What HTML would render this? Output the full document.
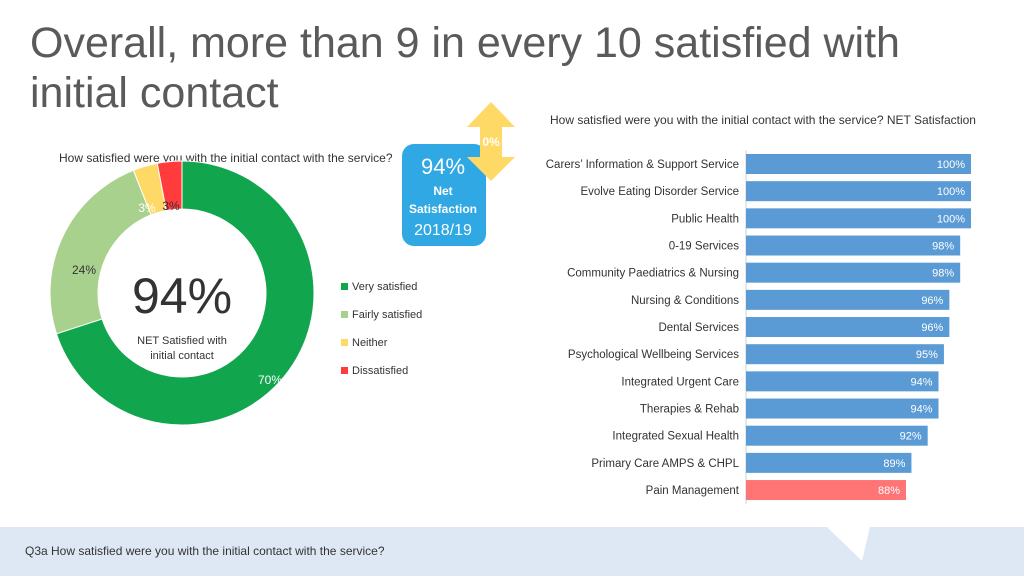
<!DOCTYPE html>
<html><head><meta charset="utf-8"><style>
body{margin:0;width:1024px;height:576px;overflow:hidden;background:#fff;font-family:"Liberation Sans",sans-serif;position:relative}
.abs{position:absolute}
</style></head><body>
<div class="abs" style="left:30px;top:18px;font-size:43px;line-height:50px;color:#5a5a5a;width:940px">Overall, more than 9 in every 10 satisfied with initial contact</div>
<div class="abs" style="left:59px;top:151px;font-size:12px;color:#333">How satisfied were you with the initial contact with the service?</div>
<div class="abs" style="left:550px;top:113px;font-size:12px;color:#333">How satisfied were you with the initial contact with the service? NET Satisfaction</div>
<svg class="abs" style="left:0;top:0" width="1024" height="576">
<polygon points="0,527 827,527 862,561 870,527 1024,527 1024,576 0,576" fill="#dde8f4"/>
<rect x="402" y="144" width="84" height="102" rx="12" fill="#2fa8e3"/>
<polygon points="491,102 515,127 502,127 502,157 515,157 491,181 467,157 480,157 480,127 467,127" fill="#ffd966"/>
<text x="491" y="146" text-anchor="middle" font-size="12" font-weight="bold" fill="#fff">0%</text>
<text x="443" y="174" text-anchor="middle" font-size="22" fill="#fff">94%</text>
<text x="443" y="195" text-anchor="middle" font-size="12" font-weight="bold" fill="#fff">Net</text>
<text x="443" y="213" text-anchor="middle" font-size="12" font-weight="bold" fill="#fff">Satisfaction</text>
<text x="443" y="235" text-anchor="middle" font-size="16" fill="#fff">2018/19</text>
<g id="donut"></g><g id="bars"></g>
<text x="182" y="313" text-anchor="middle" font-size="50" fill="#333">94%</text>
<text x="182" y="344" text-anchor="middle" font-size="11" fill="#333">NET Satisfied with</text>
<text x="182" y="359" text-anchor="middle" font-size="11" fill="#333">initial contact</text>
<g font-size="11" fill="#333">
<rect x="341" y="283" width="7" height="7" fill="#11a54e"/><text x="352" y="290">Very satisfied</text>
<rect x="341" y="311" width="7" height="7" fill="#a9d18e"/><text x="352" y="318">Fairly satisfied</text>
<rect x="341" y="339" width="7" height="7" fill="#ffd966"/><text x="352" y="346">Neither</text>
<rect x="341" y="367" width="7" height="7" fill="#ff3b3b"/><text x="352" y="374">Dissatisfied</text>
</g>
</svg>
<div class="abs" style="left:25px;top:544px;font-size:12px;color:#333">Q3a How satisfied were you with the initial contact with the service?</div>
<script>
const sliceLabels=["Very satisfied","Fairly satisfied","Neither","Dissatisfied"];
const sliceValues=[70,24,3,3];
const sliceColors=["#11a54e","#a9d18e","#ffd966","#ff3b3b"];
const services=["Carers’ Information & Support Service","Evolve Eating Disorder Service","Public Health","0-19 Services","Community Paediatrics & Nursing","Nursing & Conditions","Dental Services","Psychological Wellbeing Services","Integrated Urgent Care","Therapies & Rehab","Integrated Sexual Health","Primary Care AMPS & CHPL","Pain Management"];
const netValues=[100,100,100,98,98,96,96,95,94,94,92,89,88];
const NS="http://www.w3.org/2000/svg";
function mk(t,a,p){const e=document.createElementNS(NS,t);for(const k in a)e.setAttribute(k,a[k]);p.appendChild(e);return e;}
const cx=182,cy=293,R=132,r=84,dg=document.getElementById('donut');
const total=sliceValues.reduce((a,b)=>a+b,0);let acc=0;
const lblPos=[[270,384],[84,274],[147,212],[171,210]];
sliceValues.forEach((v,i)=>{
 const a0=acc/total*2*Math.PI,a1=(acc+v)/total*2*Math.PI;acc+=v;
 const p=(a,rad)=>[cx+rad*Math.sin(a),cy-rad*Math.cos(a)];
 const [x0,y0]=p(a0,R),[x1,y1]=p(a1,R),[x2,y2]=p(a1,r),[x3,y3]=p(a0,r);
 const lg=(a1-a0)>Math.PI?1:0;
 const path=mk('path',{d:`M${x0},${y0}A${R},${R} 0 ${lg} 1 ${x1},${y1}L${x2},${y2}A${r},${r} 0 ${lg} 0 ${x3},${y3}Z`,fill:sliceColors[i],stroke:'#fff','stroke-width':1},dg);
 
 
 const t=mk('text',{x:lblPos[i][0],y:lblPos[i][1],'text-anchor':'middle','font-size':12,fill:i==0?'#fff':(i==2?'#fff':'#333')},dg);
 t.textContent=v+'%';
 
 
});
const bg=document.getElementById('bars');
const x0=746,vMin=58.46,k=5.417,y0=164,step=27.17,bh=20;
const xs=v=>x0+(v-vMin)*k;
mk('line',{x1:x0,y1:y0-step/2,x2:x0,y2:y0+step*(services.length-0.5),stroke:'#d0d0d0'},bg);
services.forEach((s,i)=>{
 const y=y0+i*step;
 const rc=mk('rect',{x:x0,y:y-bh/2,width:xs(netValues[i])-x0,height:bh,fill:i==services.length-1?'#ff7474':'#5b9bd5'},bg);
 
 
 const l=mk('text',{x:739,y:y+4,'text-anchor':'end','font-size':11.5,fill:'#333'},bg);l.textContent=s;
 
 
 const v=mk('text',{x:xs(netValues[i])-6,y:y+4,'text-anchor':'end','font-size':11,fill:'#fff'},bg);v.textContent=netValues[i]+'%';
 
 
});
</script>
</body></html>
